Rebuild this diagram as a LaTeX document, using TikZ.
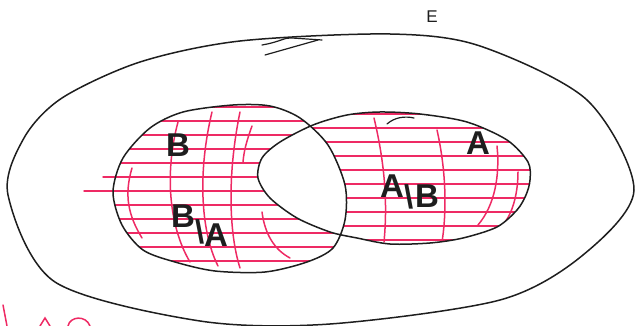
\documentclass[tikz,border=0pt]{standalone}
\usepackage{fontspec}
\setmainfont{Liberation Sans}
\definecolor{pen}{RGB}{238,42,100}
\definecolor{ink}{RGB}{30,30,30}
\begin{document}
\begin{tikzpicture}[x=1pt,y=-1pt,
  outline/.style={draw=ink,line width=1.5pt,line join=round},
  stroke/.style={draw=ink,line width=1.2pt,line cap=round},
  hatch/.style={draw=pen,line width=1.5pt,line cap=round},
  lab/.style={text=ink,font=\bfseries\fontsize{33}{33}\selectfont,inner sep=0pt}]
\useasboundingbox (0,0) rectangle (635,326);
\def\Epath{plot[smooth cycle] coordinates {(8,195) (24,138) (62,98) (140,62) (240,41) (390,34) (480,46) (587,100) (634,190) (583,255) (500,300) (330,324) (200,321) (55,282)}}
\def\Bpath{plot[smooth cycle] coordinates {(113,192) (123,158) (150,128) (183,112) (233,105) (270,106) (300,118) (328,145) (345,185) (345,220) (333,248) (307,262) (265,272) (215,271) (175,262) (143,250) (122,225)}}
\def\Apath{plot[smooth cycle] coordinates {(258,178) (262,158) (280,142) (313,125) (347,115) (380,112) (420,114) (467,122) (507,140) (528,162) (530,180) (526,195) (517,210) (497,227) (463,238) (430,243) (390,244) (357,238) (330,232) (297,218) (270,198)}}
% hatching in B
\begin{scope}
  \clip \Bpath;
  \foreach \y in {107,121,...,265} \draw[hatch] (90,\y) -- (360,\y);
  \draw[hatch] (132,168) .. controls (124,195) and (128,215) .. (142,238);
  \draw[hatch] (178,122) .. controls (165,170) and (168,225) .. (190,262);
  \draw[hatch] (212,112) .. controls (198,170) and (200,230) .. (218,266);
  \draw[hatch] (240,112) .. controls (228,170) and (228,230) .. (240,268);
  \draw[hatch] (252,126) .. controls (247,140) and (244,150) .. (243,162);
  \draw[hatch] (262,212) .. controls (265,235) and (275,250) .. (290,258);
\end{scope}
% hatching in A
\begin{scope}
  \clip \Apath;
  \foreach \y in {114,128,...,244} \draw[hatch] (250,\y) -- (540,\y);
  \draw[hatch] (374,118) .. controls (384,160) and (388,200) .. (384,242);
  \draw[hatch] (437,130) .. controls (446,170) and (447,210) .. (442,242);
  \draw[hatch] (497,146) .. controls (500,175) and (495,205) .. (478,225);
  \draw[hatch] (518,172) .. controls (518,190) and (514,210) .. (505,222);
\end{scope}
% intersection left blank
\begin{scope}
  \clip \Bpath;
  \fill[white] \Apath;
\end{scope}
\draw[hatch] (103,177) -- (125,177);
\draw[hatch] (84,191) -- (120,191);
% outlines
\draw[outline] \Epath;
\draw[outline] \Bpath;
\draw[outline] \Apath;
% pen scribbles
\draw[stroke] (265,55) -- (318,40);
\draw[stroke] (262,45) .. controls (280,42) and (285,37) .. (292,38) -- (322,40);
\draw[stroke] (387,124) .. controls (395,117) and (405,116) .. (414,118);
% cut-off red marks at the bottom edge
\draw[hatch] (3,305) -- (7,326);
\draw[hatch] (40,326) -- (45,318) -- (50,326);
\draw[hatch] (68,326) .. controls (70,316) and (86,315) .. (90,326);
% labels
\node[lab,font=\fontsize{17}{17}\selectfont] (E) at (432,17) {E};
\node[lab] (Bl) at (178,145) {B};
\node[lab] (Al) at (478,143) {A};
\node[lab,anchor=base west] (BmA) at (171,227) {B\raisebox{-.5em}{\textbackslash}\raisebox{-.6em}{A}};
\node[lab,anchor=base west] (AmB) at (380,197) {A\raisebox{-.35em}{\textbackslash}\hspace{2pt}\raisebox{-.33em}{B}};
\end{tikzpicture}
\end{document}
